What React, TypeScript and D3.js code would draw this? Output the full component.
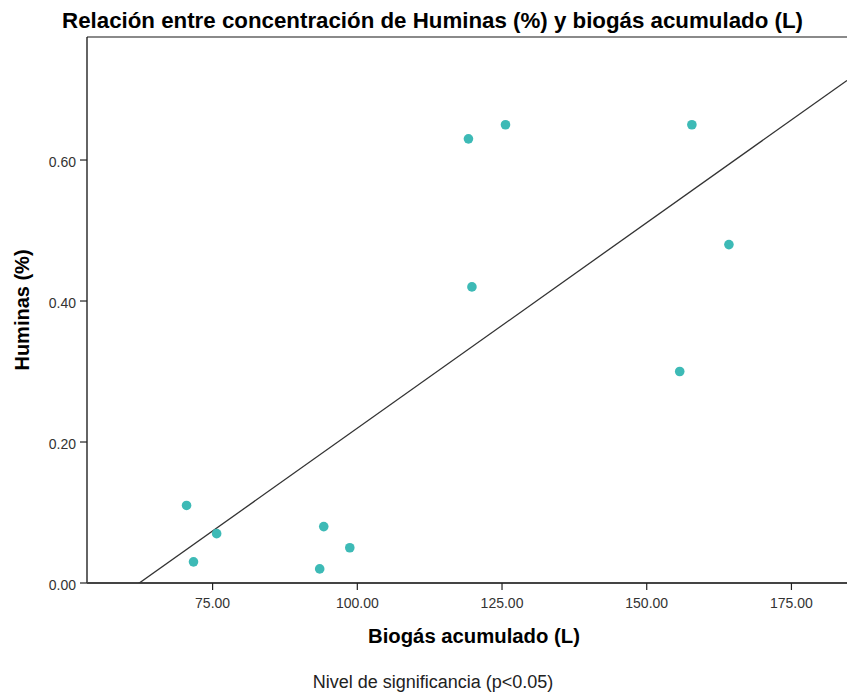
import React from "react";
import * as d3 from "d3";

const biogas = [70.5, 75.7, 71.7, 94.2, 98.7, 93.5, 119.2, 125.6, 119.8, 157.8, 164.2, 155.7];
const huminas = [0.11, 0.07, 0.03, 0.08, 0.05, 0.02, 0.63, 0.65, 0.42, 0.65, 0.48, 0.3];
const xTicks = [75, 100, 125, 150, 175];
const yTicks = [0, 0.2, 0.4, 0.6];

const W = 847;
const H = 693;
const left = 87;
const right = 847;
const top = 37;
const bottom = 583;

export default function App() {
  const x = d3.scaleLinear().domain([53.3, 184.6]).range([left, right]);
  const y = d3.scaleLinear().domain([0, 0.7745]).range([bottom, top]);

  const mx = d3.mean(biogas) as number;
  const my = d3.mean(huminas) as number;
  let sxy = 0;
  let sxx = 0;
  biogas.forEach((v, i) => {
    sxy += (v - mx) * (huminas[i] - my);
    sxx += (v - mx) * (v - mx);
  });
  const slope = sxy / sxx;
  const intercept = my - slope * mx;
  const [d0, d1] = x.domain();
  const fit: [number, number][] = [
    [d0, intercept + slope * d0],
    [d1, intercept + slope * d1],
  ];
  const line = d3
    .line<[number, number]>()
    .x((d) => x(d[0]))
    .y((d) => y(d[1]));

  const font = "'Liberation Sans', Arial, sans-serif";

  return (
    <svg
      width={W}
      height={H}
      style={{ position: "absolute", left: 0, top: 0, background: "#fff" }}
      fontFamily={font}
    >
      <defs>
        <clipPath id="plot">
          <rect x={left} y={top} width={right - left} height={bottom - top} />
        </clipPath>
      </defs>
      <rect x={0} y={0} width={W} height={H} fill="#fff" />
      <text x={432.5} y={28} textAnchor="middle" fontSize={22.3} fontWeight="bold" fill="#000">
        Relación entre concentración de Huminas (%) y biogás acumulado (L)
      </text>

      {/* frame */}
      <line x1={left} x2={right} y1={top} y2={top} stroke="#8a8a8a" strokeWidth={2} />
      <line x1={left} x2={left} y1={top} y2={bottom} stroke="#111" strokeWidth={1.3} />
      <line x1={left} x2={right} y1={bottom} y2={bottom} stroke="#444" strokeWidth={2} />

      {/* y ticks */}
      {yTicks.map((t) => (
        <g key={"y" + t}>
          <line x1={left - 7} x2={left} y1={y(t)} y2={y(t)} stroke="#222" strokeWidth={1.2} />
          <text x={left - 11} y={y(t) + 6.5} textAnchor="end" fontSize={14} fill="#333">
            {t.toFixed(2)}
          </text>
        </g>
      ))}
      {/* x ticks */}
      {xTicks.map((t) => (
        <g key={"x" + t}>
          <line x1={x(t)} x2={x(t)} y1={bottom} y2={bottom + 7} stroke="#222" strokeWidth={1.2} />
          <text x={x(t)} y={bottom + 25} textAnchor="middle" fontSize={14} fill="#333">
            {t.toFixed(2)}
          </text>
        </g>
      ))}

      <g clipPath="url(#plot)">
        <path d={line(fit) || ""} fill="none" stroke="#333" strokeWidth={1.3} />
        {biogas.map((v, i) => (
          <circle key={i} cx={x(v)} cy={y(huminas[i])} r={4.8} fill="#3dbab6" />
        ))}
      </g>

      <text
        transform={`translate(29, ${(top + bottom) / 2}) rotate(-90)`}
        textAnchor="middle"
        fontSize={20}
        fontWeight="bold"
        fill="#000"
      >
        Huminas (%)
      </text>
      <text x={474} y={643} textAnchor="middle" fontSize={20.3} fontWeight="bold" fill="#000">
        Biogás acumulado (L)
      </text>
      <text x={433} y={688} textAnchor="middle" fontSize={18} fill="#222">
        Nivel de significancia (p&lt;0.05)
      </text>
    </svg>
  );
}
